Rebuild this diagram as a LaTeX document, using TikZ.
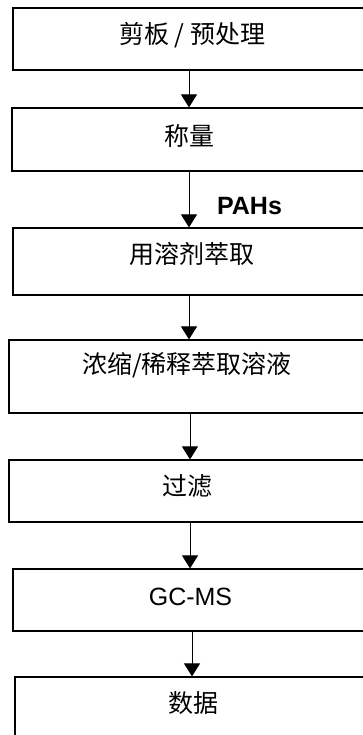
\documentclass[tikz,border=0pt]{standalone}
\usepackage{fontspec}
\setmainfont{Liberation Sans}
\newfontfamily\cjk{Noto Sans CJK SC}
\usetikzlibrary{arrows.meta}
\tikzset{
	stage/.style={draw,line width=1.2pt,inner sep=0pt},
	lbl/.style={inner sep=0pt,font=\cjk\fontsize{25}{30}\selectfont},
	latin/.style={inner sep=0pt,font=\fontsize{25}{30}\selectfont},
	flow/.style={-{Triangle[width=16pt,length=13pt]},line width=1pt}
}
\begin{document}
\begin{tikzpicture}[x=1pt,y=-1pt]
	\useasboundingbox (0,0) rectangle (363,735);
	% boxes
	\node[stage,minimum width=352pt,minimum height=62pt] (prep) at (189,39) {};
	\node[stage,minimum width=354pt,minimum height=63pt] (weigh) at (189,139.5) {};
	\node[stage,minimum width=352pt,minimum height=67pt] (extract) at (189,261.5) {};
	\node[stage,minimum width=362pt,minimum height=73pt] (conc) at (190,376.5) {};
	\node[stage,minimum width=362pt,minimum height=62pt] (filter) at (190,491) {};
	\node[stage,minimum width=358pt,minimum height=62pt] (gcms) at (192,600) {};
	\node[stage,minimum width=356pt,minimum height=73pt] (data) at (193,713.5) {};
	% texts
	\node[lbl] (prepT) at (192,35) {剪板 / 预处理};
	\node[lbl] (weighT) at (189,136) {称量};
	\node[lbl] (extractT) at (192,254) {用溶剂萃取};
	\node[lbl] (concT) at (187,365) {浓缩/稀释萃取溶液};
	\node[lbl] (filterT) at (187,486) {过滤};
	\node[latin] (gcmsT) at (190.5,597) {GC-MS};
	\node[lbl] (dataT) at (193,703) {数据};
	\node[latin,font=\bfseries\fontsize{25}{30}\selectfont] (pahs) at (249.5,206) {PAHs};
	% arrows
	\draw[flow] (prep.south) -- (prep.south |- weigh.north);
	\draw[flow] (weigh.south) -- (weigh.south |- extract.north);
	\draw[flow] (extract.south) -- (extract.south |- conc.north);
	\draw[flow] (conc.south) -- (conc.south |- filter.north);
	\draw[flow] (filter.south) -- (filter.south |- gcms.north);
	\draw[flow] (gcms.south) -- (gcms.south |- data.north);
\end{tikzpicture}
\end{document}
